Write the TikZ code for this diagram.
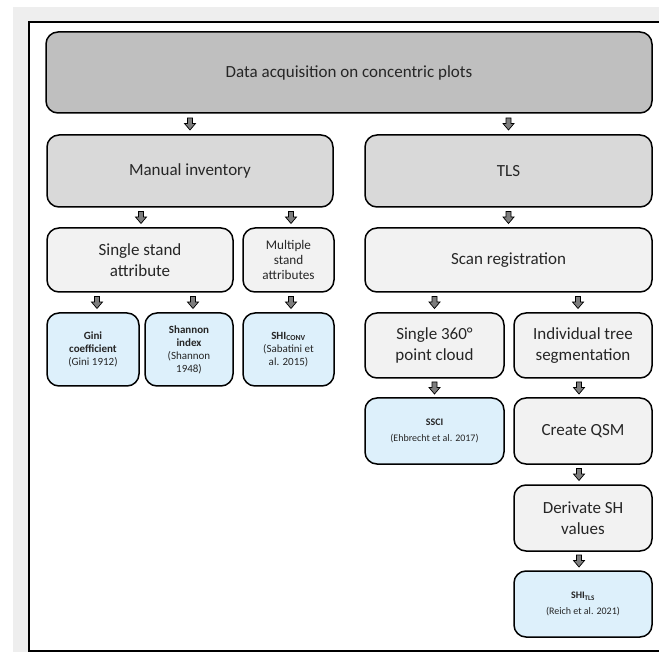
\documentclass[tikz,border=0pt]{standalone}
\usepackage{fontspec}
\setmainfont{Carlito}
\usetikzlibrary{calc}

\definecolor{bandgray}{RGB}{238,238,238}
\definecolor{topgray}{RGB}{191,191,191}
\definecolor{midgray}{RGB}{217,217,217}
\definecolor{lightgray}{RGB}{242,242,242}
\definecolor{lightblue}{RGB}{221,240,251}
\definecolor{arrgray}{RGB}{125,125,125}
\definecolor{txtgray}{RGB}{38,38,38}

% block arrow between two named boxes
\newcommand{\blk}[3][0pt]{%
  \path let \p1 = (#2.south), \p2 = (#3.north) in
    ([xshift=#1]\x2,{0.5*\y1+0.5*\y2}) pic {darr};}

\begin{document}
\begin{tikzpicture}[x=1pt,y=-1pt]
  \tikzset{
      every node/.append style = {
          text = txtgray,
          align = center,
          inner sep = 2pt
      },
      box/.style = {
          draw = black,
          line width = 1.5pt,
          rounded corners = 12pt,
          font = \fontsize{17}{20.5}\selectfont
      },
      topbox/.style = {box, fill = topgray},
      midbox/.style = {box, fill = midgray},
      stepbox/.style = {box, fill = lightgray},
      resbox/.style = {box, fill = lightblue,
          font = \fontsize{11}{13}\selectfont},
      darr/.pic = {
          \draw[fill = arrgray, line width = 0.7pt]
              (-2.5pt,6pt) -- (2.5pt,6pt) -- (2.5pt,0.5pt) -- (5.5pt,0.5pt)
              -- (0pt,-6pt) -- (-5.5pt,0.5pt) -- (-2.5pt,0.5pt) -- cycle;
      }
  }
  \useasboundingbox (0,0) rectangle (659,652);
  \fill[bandgray] (13,7) rectangle (659,652);
  \fill[white] (29,22) rectangle (659,651);
  \draw[line width = 1.3pt] (659,22) -- (29,22) -- (29,651) -- (659,651);

  \node[topbox, minimum width = 606, minimum height = 81] (acq) at (349,72.5)
      {Data acquisition on concentric plots};

  \node[midbox, minimum width = 286, minimum height = 72] (man) at (190,171)
      {Manual inventory};
  \node[midbox, minimum width = 287, minimum height = 72] (tls) at (508.5,171)
      {TLS};

  \node[stepbox, minimum width = 186, minimum height = 64] (single) at (140,260)
      {Single stand\\attribute};
  \node[stepbox, minimum width = 91, minimum height = 64,
        font = \fontsize{13.2}{15}\selectfont] (multi) at (288.5,260)
      {Multiple\\stand\\attributes};
  \node[stepbox, minimum width = 287, minimum height = 64] (scan) at (508.5,260)
      {Scan registration};

  \node[resbox, minimum width = 92, minimum height = 73] (gini) at (93,349.5)
      {\textbf{Gini}\\\textbf{coefficient}\\(Gini 1912)};
  \node[resbox, minimum width = 88, minimum height = 73] (shannon) at (189,349.5)
      {\textbf{Shannon}\\\textbf{index}\\(Shannon\\1948)};
  \node[resbox, minimum width = 91, minimum height = 73] (shiconv) at (288.5,349.5)
      {\textbf{SHI\textsubscript{CONV}}\\(Sabatini et\\al. 2015)};

  \node[stepbox, minimum width = 139, minimum height = 65] (cloud) at (434.5,345.5)
      {Single 360°\\point cloud};
  \node[stepbox, minimum width = 138, minimum height = 65] (seg) at (583,345.5)
      {Individual tree\\segmentation};

  \node[resbox, minimum width = 139, minimum height = 66,
        font = \fontsize{10}{16}\selectfont] (ssci) at (434.5,431)
      {\textbf{SSCI}\\(Ehbrecht et al. 2017)};
  \node[stepbox, minimum width = 138, minimum height = 66] (qsm) at (583,431)
      {Create QSM};
  \node[stepbox, minimum width = 138, minimum height = 66] (derive) at (583,518)
      {Derivate SH\\values};
  \node[resbox, minimum width = 138, minimum height = 66,
        font = \fontsize{10}{16}\selectfont] (shitls) at (583,604)
      {\textbf{SHI\textsubscript{TLS}}\\(Reich et al. 2021)};

  \blk{acq}{man}
  \blk{acq}{tls}
  \blk[1pt]{man}{single}
  \blk[2.5pt]{man}{multi}
  \blk{tls}{scan}
  \blk[4pt]{single}{gini}
  \blk[4pt]{single}{shannon}
  \blk[2.5pt]{multi}{shiconv}
  \blk{scan}{cloud}
  \blk[-5pt]{scan}{seg}
  \blk{cloud}{ssci}
  \blk[-4pt]{seg}{qsm}
  \blk[-4pt]{qsm}{derive}
  \blk[-4pt]{derive}{shitls}
\end{tikzpicture}
\end{document}
